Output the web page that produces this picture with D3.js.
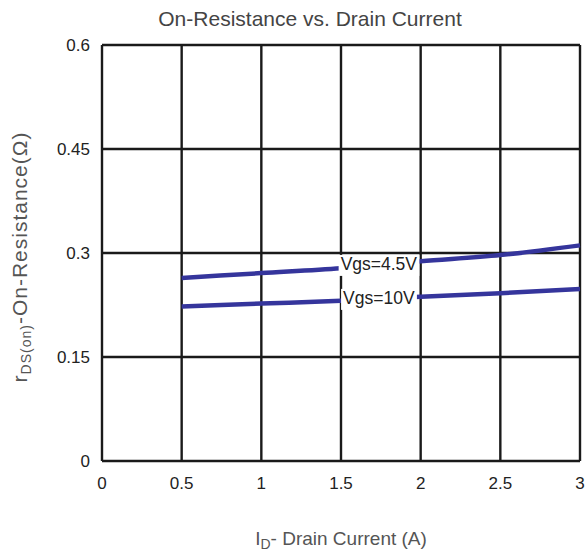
<!DOCTYPE html>
<html>
<head>
<meta charset="utf-8">
<script src="https://cdn.jsdelivr.net/npm/d3@7"></script>
<style>
  body { margin: 0; background: #fff; }
  text { font-family: "Liberation Sans", Arial, sans-serif; }
</style>
</head>
<body>
<div id="chart"></div>
<script>
// data
var current = [0.5, 1, 1.5, 2, 2.5, 3];
var vgs45 = [0.264, 0.271, 0.278, 0.288, 0.297, 0.311];
var vgs10 = [0.223, 0.227, 0.231, 0.237, 0.242, 0.248];
var xTicks = [0, 0.5, 1, 1.5, 2, 2.5, 3];
var yTicks = [0, 0.15, 0.3, 0.45, 0.6];
var seriesNames = ["Vgs=4.5V", "Vgs=10V"];

var svgWidth = 585;
var svgHeight = 552;
var margin = {top: 45, right: 4, bottom: 90, left: 102};
var width = svgWidth - margin.left - margin.right;
var height = svgHeight - margin.top - margin.bottom;

var svg = d3.select("#chart")
  .append("svg")
  .attr("width", svgWidth)
  .attr("height", svgHeight);

var chartGroup = svg.append("g")
  .attr("transform", `translate(${margin.left}, ${margin.top})`);

var x = d3.scaleLinear().domain([0, 3]).range([0, width - 1]);
var y = d3.scaleLinear().domain([0, 0.6]).range([height - 1, 0]);

// grid
chartGroup.selectAll(".vgrid")
  .data(xTicks)
  .enter()
  .append("line")
  .attr("x1", d => x(d)).attr("x2", d => x(d))
  .attr("y1", y(0)).attr("y2", y(0.6))
  .attr("stroke", "#1a1a1a")
  .attr("stroke-width", 2.4);

chartGroup.selectAll(".hgrid")
  .data(yTicks)
  .enter()
  .append("line")
  .attr("x1", x(0)).attr("x2", x(3))
  .attr("y1", d => y(d)).attr("y2", d => y(d))
  .attr("stroke", "#1a1a1a")
  .attr("stroke-width", 2.4);

// tick labels
chartGroup.selectAll(".xlab")
  .data(xTicks)
  .enter()
  .append("text")
  .attr("x", d => x(d))
  .attr("y", height + 27)
  .attr("text-anchor", "middle")
  .attr("font-size", 17)
  .attr("fill", "#222")
  .text(d => d);

chartGroup.selectAll(".ylab")
  .data(yTicks)
  .enter()
  .append("text")
  .attr("x", -12)
  .attr("y", d => y(d) + 6)
  .attr("text-anchor", "end")
  .attr("font-size", 17)
  .attr("fill", "#222")
  .text(d => d);

// curves
var line = d3.line()
  .x((d, i) => x(current[i]))
  .y(d => y(d))
  .curve(d3.curveMonotoneX);

[vgs45, vgs10].forEach(function(s) {
  chartGroup.append("path")
    .datum(s)
    .attr("d", line)
    .attr("fill", "none")
    .attr("stroke", "#35359c")
    .attr("stroke-width", 4.5);
});

// series labels with white boxes
var labelY = [d3.mean([vgs45[2], vgs45[3]]), d3.mean([vgs10[2], vgs10[3]])];
seriesNames.forEach(function(name, i) {
  var g = chartGroup.append("g")
    .attr("transform", `translate(${x(1.75) - 2}, ${y(labelY[i]) - 1})`);
  var t = g.append("text")
    .attr("text-anchor", "middle")
    .attr("dy", "0.35em")
    .attr("font-size", 17.5)
    .attr("fill", "#222")
    .text(name);
  var bb = t.node().getBBox();
  g.insert("rect", "text")
    .attr("x", bb.x - 2)
    .attr("y", bb.y + 1)
    .attr("width", bb.width + 4)
    .attr("height", bb.height + 1)
    .attr("fill", "#fff");
});

// title
svg.append("text")
  .attr("x", 310)
  .attr("y", 26)
  .attr("text-anchor", "middle")
  .attr("font-size", 21)
  .attr("fill", "#444")
  .text("On-Resistance vs. Drain Current");

// x axis title
var xt = svg.append("text")
  .attr("x", 341)
  .attr("y", 545)
  .attr("text-anchor", "middle")
  .attr("font-size", 19)
  .attr("fill", "#555");
xt.append("tspan").text("I");
xt.append("tspan").attr("font-size", 14).attr("dy", 4).text("D");
xt.append("tspan").attr("dy", -4).text("- Drain Current (A)");

// y axis title
var yt = svg.append("text")
  .attr("transform", "translate(27, 257) rotate(-90)")
  .attr("text-anchor", "middle")
  .attr("font-size", 21)
  .attr("letter-spacing", 1)
  .attr("fill", "#555");
yt.append("tspan").text("r");
yt.append("tspan").attr("font-size", 14).attr("dy", 4).text("DS(on)");
yt.append("tspan").attr("dy", -4).text("-On-Resistance(Ω)");
</script>
</body>
</html>
